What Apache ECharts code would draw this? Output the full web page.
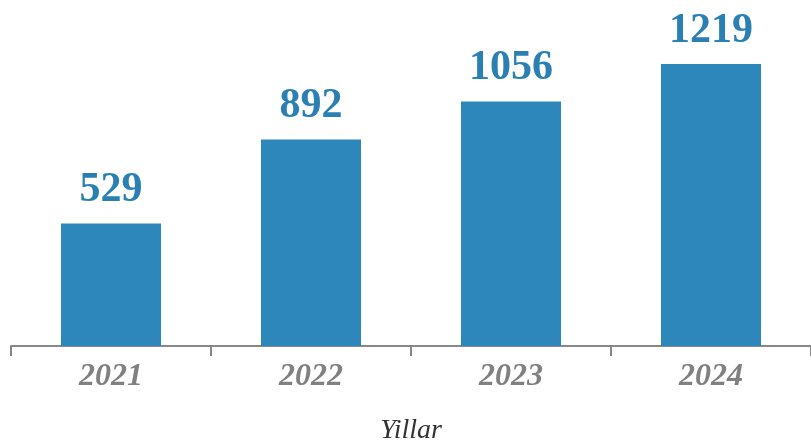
<!DOCTYPE html>
<html>
<head>
<meta charset="utf-8">
<script src="https://cdn.jsdelivr.net/npm/echarts@6/dist/echarts.min.js"></script>
<style>
    html, body { margin: 0; padding: 0; background: #fff; }
    #chart { width: 811px; height: 441px; }
</style>
</head>
<body>
<div id="chart"></div>
<script>
const years = ['2021', '2022', '2023', '2024'];
const counts = [529, 892, 1056, 1219];

const serif = "'Liberation Serif', 'Times New Roman', serif";
const chart = echarts.init(document.getElementById('chart'));

const option = {
    animation: false,
    grid: {
        left: 11,
        right: 0,
        top: 22,
        bottom: 95,
        outerBoundsMode: 'none',
        containLabel: false
    },
    xAxis: {
        type: 'category',
        data: years,
        name: 'Yillar',
        nameLocation: 'middle',
        nameGap: 71,
        nameTextStyle: {
            fontFamily: serif,
            fontStyle: 'italic',
            fontSize: 28,
            color: '#333'
        },
        axisLine: { lineStyle: { color: '#888', width: 2 } },
        axisTick: { show: true, length: 10, lineStyle: { color: '#888', width: 2 } },
        axisLabel: {
            margin: 15,
            fontFamily: serif,
            fontStyle: 'italic',
            fontWeight: 'bold',
            fontSize: 32,
            color: '#808080'
        }
    },
    yAxis: {
        type: 'value',
        min: 0,
        max: 1400,
        show: false,
        splitLine: { show: false }
    },
    series: [{
        type: 'bar',
        data: counts,
        barWidth: '50%',
        itemStyle: { color: '#2E87BA' },
        label: {
            show: true,
            position: 'top',
            distance: 12,
            fontFamily: serif,
            fontWeight: 'bold',
            fontSize: 42,
            color: '#2A80B3'
        }
    }]
};

chart.setOption(option);
</script>
</body>
</html>
